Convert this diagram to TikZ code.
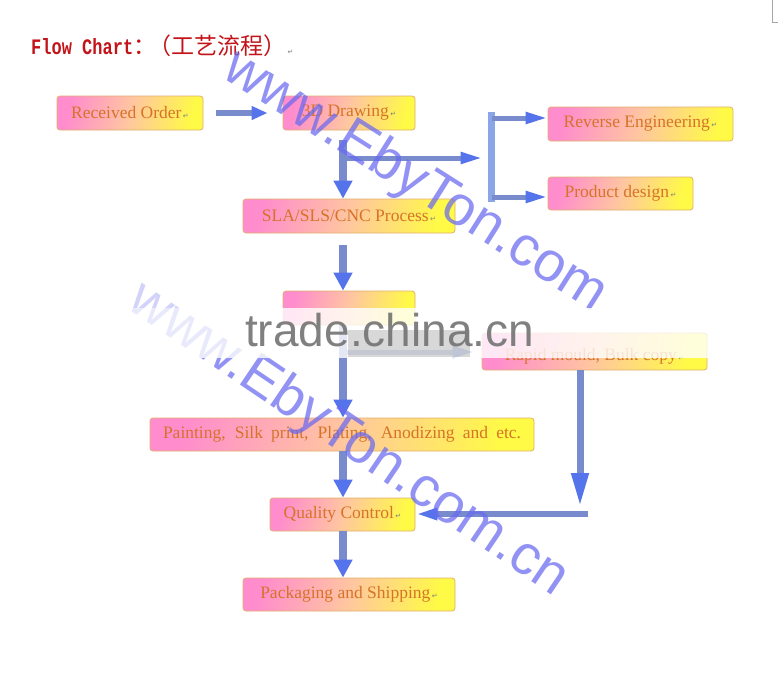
\documentclass[tikz,border=0pt]{standalone}
\usepackage{fontspec}
\setmainfont{Liberation Serif}
\newfontfamily\monofont{Liberation Mono}
\newfontfamily\cjk{Noto Sans CJK SC}
\newfontfamily\djv{DejaVu Sans}
\newfontfamily\wmfont{Liberation Sans}
\usetikzlibrary{arrows.meta,calc}
\definecolor{boxpink}{RGB}{255,140,205}
\definecolor{boxpeach}{RGB}{255,198,160}
\definecolor{boxyellow}{RGB}{255,250,70}
\definecolor{boxedge}{RGB}{225,175,110}
\definecolor{boxtext}{RGB}{215,115,40}
\definecolor{arrshaft}{RGB}{120,140,205}
\definecolor{arrhead}{RGB}{85,115,235}
\definecolor{barcol}{RGB}{140,165,230}
\definecolor{titlered}{RGB}{195,20,25}
\definecolor{wmblue}{RGB}{105,105,240}
\definecolor{wmgray}{RGB}{115,115,115}
\newcommand{\pmark}{{\kern1.5pt\djv\fontsize{7}{7}\selectfont\color{gray}↵}}
\tikzset{
  fbox/.style={rectangle, rounded corners=3pt, draw=boxedge, line width=0.8pt,
    left color=boxpink, right color=boxyellow, middle color=boxpeach, shading angle=75,
    text=boxtext, font=\fontsize{17.5}{17.5}\selectfont, inner sep=0pt},
  flow/.style={draw=arrshaft, line width=8.5pt, -{Triangle[width=18pt,length=18pt,color=arrhead]}},
  hflow/.style={draw=arrshaft, line width=6pt, -{Triangle[width=13pt,length=16pt,color=arrhead]}},
  thinflow/.style={draw=arrshaft, line width=5pt, -{Triangle[width=11pt,length=22pt,color=arrhead]}},
  longflow/.style={draw=arrshaft, line width=7pt, -{Triangle[width=16pt,length=34pt,color=arrhead]}},
  wmark/.style={text=wmblue, opacity=0.72, font=\wmfont\fontsize{56}{56}\selectfont, inner sep=0pt}
}
\begin{document}
\begin{tikzpicture}[x=1pt,y=-1pt]
\useasboundingbox (0,0) rectangle (778,691);
\fill[white] (0,0) rectangle (778,691);
\draw[gray!70, line width=0.5pt] (772,0) -- (772,22) -- (778,22);
% title
\node[anchor=base west, inner sep=0, text=titlered] (title) at (31,54)
  {\scalebox{1}[1.3]{\monofont\bfseries\fontsize{17}{17}\selectfont Flow Chart}%
   {\cjk\fontsize{23}{23}\selectfont\makebox[15pt][l]{：}（工艺流程）}\pmark};
% boxes
\node[fbox, minimum width=146pt, minimum height=34pt] (recv) at (130,113) {Received Order\pmark};
\node[fbox, minimum width=132pt, minimum height=34pt] (draw3d) at (349,113) {3D Drawing\pmark};
\node[fbox, minimum width=185pt, minimum height=34pt] (rev) at (640.5,124) {Reverse Engineering\pmark};
\node[fbox, minimum width=145pt, minimum height=33pt] (prod) at (620.5,193.5) {Product design\pmark};
\node[fbox, minimum width=212pt, minimum height=34pt] (sla) at (349,216) {SLA/SLS/CNC Process\pmark};
\node[fbox, minimum width=132pt, minimum height=34pt] (hidden) at (349,308) {};
\node[fbox, minimum width=225pt, minimum height=37pt, text height=22pt, text depth=4pt] (rapid) at (594.5,351.5) {Rapid mould, Bulk copy\pmark};
\node[fbox, minimum width=384pt, minimum height=33pt] (paint) at (342,434.5)
  {\makebox[358pt][s]{Painting, Silk print, Plating, Anodizing and etc.}};
\node[fbox, minimum width=145pt, minimum height=33pt] (qc) at (342.5,514.5) {Quality Control\pmark};
\node[fbox, minimum width=212pt, minimum height=33pt] (pack) at (349,594.5) {Packaging and Shipping\pmark};
% coordinates
\coordinate (d3b) at ($(draw3d.south)+(-6,0)$);
\coordinate (h1) at (346,158);
\coordinate (bt) at (491.5,112);
\coordinate (bb) at (491.5,202);
\coordinate (br1) at ($(bt)+(0,6)$);
\coordinate (br2) at ($(bb)+(0,-5)$);
\coordinate (slab) at ($(sla.south)+(-6,0)$);
\coordinate (hb) at ($(hidden.south)+(-6,0)$);
\coordinate (h2) at (346,352);
\coordinate (pb) at ($(paint.south)+(1,0)$);
\coordinate (qb) at ($(qc.south)+(0.5,0)$);
\coordinate (rb) at (580,370);
\coordinate (qcr) at (588,514);
% connectors
\draw[hflow, shorten <=13pt, shorten >=15pt] (recv) -- (draw3d);
\draw[flow, shorten <=10pt] (d3b) -- (d3b |- sla.north);
\draw[thinflow, shorten >=9pt] (h1) -- (h1 -| bt);
\draw[draw=barcol, line width=7pt] (bt) -- (bb);
\draw[thinflow] (br1) -- (br1 -| rev.west);
\draw[thinflow] (br2) -- (br2 -| prod.west);
\draw[flow, shorten <=12pt] (slab) -- (slab |- hidden.north);
\draw[flow] (hb) -- (hb |- paint.north);
\draw[thinflow, shorten >=7pt] (h2) -- (h2 -| rapid.west);
\draw[flow] (pb) -- (pb |- qc.north);
\draw[flow] (qb) -- (qb |- pack.north);
\draw[longflow, shorten >=7pt] (rb) -- (rb |- qcr);
\draw[thinflow, line width=6pt] (qcr) -- (qcr -| qc.east);
% watermarks
\node[wmark, rotate=-32.3] (wm1) at (415,182) {www.EbyTon.com};
\node[wmark, rotate=-34] (wm2) at (348,440) {www.EbyTon.com.cn};
\fill[white, opacity=0.6] (115,272) rectangle (250,308);
\fill[white, opacity=0.8] (115,308) rectangle (720,358);
\fill[gray, opacity=0.3] (348,330) rectangle (470,357);
\node[anchor=base west, inner sep=0, text=wmgray, opacity=0.9, font=\wmfont\fontsize{46}{46}\selectfont] (wm3) at (245,346) {trade.china.cn};
\end{tikzpicture}
\end{document}
